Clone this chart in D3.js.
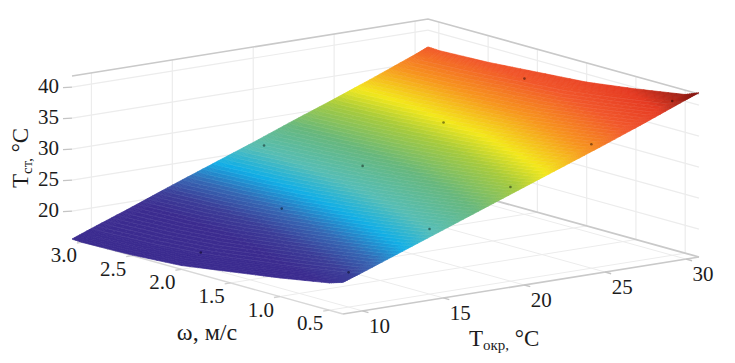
<!DOCTYPE html>
<html><head><meta charset="utf-8">
<script src="https://cdnjs.cloudflare.com/ajax/libs/d3/7.8.5/d3.min.js"></script>
<style>html,body{margin:0;padding:0;background:#fff}svg{display:block}text{font-family:"Liberation Serif","Times New Roman",serif;fill:#1c1c1c}</style>
</head><body><svg id="c" width="735" height="363"></svg>
<script>
const tempTicks=[10,15,20,25,30];
const windTicks=[0.5,1.0,1.5,2.0,2.5,3.0];
const wallTicks=[20,25,30,35,40];
const tempGrid=[8.8,10,12.5,15,17.5,20,22.5,25,27.5,30,30.8];
const windGrid=[0.36,0.5,1,1.5,2,2.5,3,3.11];
const wall036=[20.6,21.7,24.1,26.5,28.9,31.3,33.7,36.1,38.6,41.2,42.0];
const wall050=[19.9,21.1,23.6,26.0,28.4,30.7,33.1,35.5,37.9,40.4,41.1];
const wall100=[18.5,19.8,22.3,24.7,27.1,29.4,31.8,34.2,36.6,39.1,39.8];
const wall150=[17.3,18.7,21.2,23.6,26.0,28.3,30.7,33.1,35.5,38.0,38.7];
const wall200=[16.1,17.6,20.2,22.7,25.1,27.5,29.9,32.4,34.9,37.4,38.1];
const wall250=[15.6,17.0,19.5,22.0,24.4,26.9,29.3,31.7,34.2,36.8,37.5];
const wall300=[15.4,16.7,19.2,21.6,24.0,26.4,28.9,31.3,33.8,36.4,37.2];
const wall311=[15.5,16.7,19.1,21.6,24.0,26.4,28.9,31.3,33.8,36.4,37.3];
const surfaceRows=[wall036,wall050,wall100,wall150,wall200,wall250,wall300,wall311];
const dotTemp=[10,15,20,25,30,10,15,20,25,30,20];
const dotWind=[0.5,0.5,0.5,0.5,0.5,2,2,2,2,2,3];
const dotWall=[21.1,26.0,30.7,35.5,40.4,17.7,22.7,27.5,32.4,37.4,26.4];
const colorStops=[19.5,21,22.5,24.2,26,28.5,31,32.6,35,37.4,39.5,40.4,41.5];
const colorValues=["#3b2b8f","#3b3d98","#3467b4","#10aee6","#55bdb5","#66b77c","#a8cb3a","#f3e81a","#f7941d","#f1562a","#e53a22","#b92a1a","#8b1a14"];

const B={x:343,y:314},uVec={x:356,y:-57},vVec={x:-271,y:-75};
const uS=d3.scaleLinear().domain([8.8,30.8]).range([0,1]);
const vS=d3.scaleLinear().domain([0.36,3.11]).range([0,1]);
const zS=d3.scaleLinear().domain([15.5,41.8]).range([0,163]);
const color=d3.scaleLinear().domain(colorStops).range(colorValues).clamp(true);
const P=(t,w,z)=>{const u=uS(t),v=vS(w);return [B.x+u*uVec.x+v*vVec.x,B.y+u*uVec.y+v*vVec.y-zS(z)];};
const svg=d3.select("#c");
const line=d3.line();
const tMin=8.8,tMax=30.8,wMin=0.36,wMax=3.11,zMin=15.5,zMax=41.8;
const draw=(g,pts,st,sw,op)=>g.append("path").attr("d",line(pts)).attr("fill","none").attr("stroke",st).attr("stroke-width",sw).attr("stroke-opacity",op==null?1:op);

// grid
const grid=svg.append("g");
const gc="#ececec";
tempTicks.forEach(t=>{draw(grid,[P(t,wMin,zMin),P(t,wMax,zMin)],gc,1);draw(grid,[P(t,wMax,zMin),P(t,wMax,zMax)],gc,1.2);});
windTicks.forEach(w=>{draw(grid,[P(tMin,w,zMin),P(tMax,w,zMin)],gc,1);draw(grid,[P(tMax,w,zMin),P(tMax,w,zMax)],gc,1.2);});
wallTicks.forEach(z=>{draw(grid,[P(tMin,wMax,z),P(tMax,wMax,z)],gc,1.2);draw(grid,[P(tMax,wMax,z),P(tMax,wMin,z)],gc,1.2);});
// box
const bc="#c9c9c9";
draw(grid,[P(tMin,wMax,zMax),P(tMax,wMax,zMax),P(tMax,wMin,zMax)],bc,1.6);
draw(grid,[P(tMax,wMax,zMin),P(tMax,wMin,zMin)],bc,1.8);
draw(grid,[P(tMin,wMax,zMin),P(tMin,wMin,zMin)],"#d8d8d8",1.4);
draw(grid,[P(tMin,wMin,zMin),P(tMax,wMin,zMin)],bc,1.6);
// ticks
wallTicks.forEach(z=>{const p=P(tMin,wMax,z);draw(grid,[[p[0]-9,p[1]+0.5],p],"#c4c4c4",1.4);});
tempTicks.forEach(t=>{const p=P(t,wMin,zMin);draw(grid,[p,[p[0]+6,p[1]+1.7]],"#c4c4c4",1.4);});
windTicks.forEach(w=>{const p=P(tMin,w,zMin);draw(grid,[p,[p[0]-6,p[1]+1]],"#d0d0d0",1.4);});

// surface
const surf=svg.append("g");
const NS=6,NT=8;
const lerp=(a,b,f)=>a+(b-a)*f;
const zAt=(i,j,fi,fj)=>lerp(lerp(surfaceRows[i][j],surfaceRows[i][j+1],fj),lerp(surfaceRows[i+1][j],surfaceRows[i+1][j+1],fj),fi);
for(let i=0;i<windGrid.length-1;i++)for(let j=0;j<tempGrid.length-1;j++){
  for(let a=0;a<NS;a++)for(let b=0;b<NT;b++){
    const c=[[a,b],[a+1,b],[a+1,b+1],[a,b+1]].map(([p,q])=>{
      const fi=p/NS,fj=q/NT;
      return {w:lerp(windGrid[i],windGrid[i+1],fi),t:lerp(tempGrid[j],tempGrid[j+1],fj),z:zAt(i,j,fi,fj)};});
    const pts=c.map(d=>P(d.t,d.w,d.z));
    const col=color(d3.mean(c,d=>d.z));
    surf.append("path").attr("d",line(pts)+"Z").attr("fill",col).attr("stroke",col).attr("stroke-width",0.7);
  }
}
// mesh lines, a faint shading of the surface
const mesh=svg.append("g");
for(let j=1;j<tempGrid.length-2;j++)for(let b=0;b<NT;b++){
  const fj=b/NT,t=lerp(tempGrid[j],tempGrid[j+1],fj);
  const pts=[];
  for(let i=0;i<windGrid.length-1;i++){
    pts.push(P(t,windGrid[i],zAt(i,j,0,fj)));
    if(i===windGrid.length-2)pts.push(P(t,windGrid[i+1],zAt(i,j,1,fj)));
  }
  draw(mesh,pts,"#fff",1,0.06);
}
// dots
svg.append("g").selectAll("circle").data(dotTemp).join("circle")
  .attr("cx",(d,i)=>P(d,dotWind[i],dotWall[i])[0]).attr("cy",(d,i)=>P(d,dotWind[i],dotWall[i])[1])
  .attr("r",1.3).attr("fill",(d,i)=>d3.color(color(dotWall[i])).darker(1.6));

// labels
const lab=svg.append("g").attr("font-size",21).attr("text-anchor","middle");
wallTicks.forEach(z=>{const p=P(tMin,wMax,z);lab.append("text").attr("x",48.5).attr("y",p[1]+6).text(z);});
tempTicks.forEach(t=>{const p=P(t,wMin,zMin);lab.append("text").attr("x",p[0]+17).attr("y",p[1]+22).text(t);});
windTicks.forEach(w=>{const p=P(tMin,w,zMin);lab.append("text").attr("x",p[0]-19).attr("y",p[1]+20).text(d3.format(".1f")(w));});
svg.append("text").attr("x",207).attr("y",340).attr("font-size",24).attr("text-anchor","middle").text("ω, м/с");
const tx=svg.append("text").attr("x",469).attr("y",346).attr("font-size",23);
tx.append("tspan").text("T");
tx.append("tspan").attr("font-size",15).attr("dy",4).text("окр");
tx.append("tspan").attr("font-size",15).text(",");
tx.append("tspan").attr("dy",-4).text(" °C");
const ty=svg.append("text").attr("transform","translate(28,188) rotate(-90)").attr("font-size",23);
ty.append("tspan").text("T");
ty.append("tspan").attr("font-size",15).attr("dy",4).text("ст,");
ty.append("tspan").attr("dy",-4).text(" °C");
</script></body></html>
